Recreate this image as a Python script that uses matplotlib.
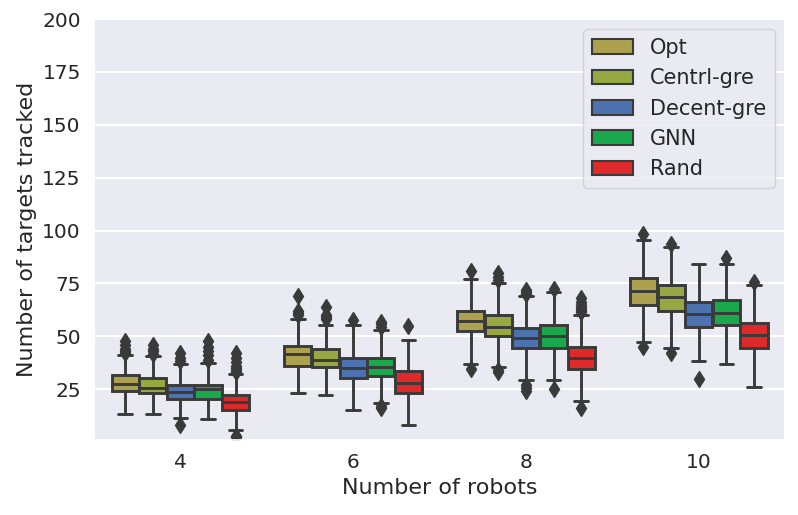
import numpy as np
import matplotlib
matplotlib.use("Agg")
import matplotlib.pyplot as plt
import matplotlib.patches as mpatches
import seaborn as sns

robots = ["4", "6", "8", "10"]
methods = ["Opt", "Centrl-gre", "Decent-gre", "GNN", "Rand"]
colors = ["#ADA150", "#97A843", "#4C72B0", "#19A84C", "#E0292A"]

# box stats, one row per method, one column per robot count
q1 = [[24.0, 36.0, 52.3, 65.0],
      [23.2, 35.3, 50.2, 62.2],
      [20.3, 30.2, 44.4, 54.2],
      [20.4, 31.1, 44.4, 55.3],
      [15.4, 23.2, 34.4, 44.3]]
med = [[27.7, 41.6, 57.3, 71.4],
       [25.8, 39.0, 54.5, 68.7],
       [23.7, 35.1, 49.3, 60.5],
       [24.9, 35.6, 50.1, 61.1],
       [19.0, 28.0, 40.0, 50.5]]
q3 = [[31.6, 45.3, 62.0, 77.4],
      [30.5, 44.2, 60.0, 74.2],
      [27.2, 40.0, 54.0, 66.3],
      [27.2, 40.0, 55.3, 67.4],
      [22.5, 33.5, 45.0, 56.4]]
whis_lo = [[13.3, 23.2, 37.1, 47.2],
           [13.3, 22.3, 35.3, 44.3],
           [11.4, 15.4, 29.3, 38.2],
           [10.7, 18.5, 29.3, 37.1],
           [5.6, 8.3, 19.3, 26.1]]
whis_hi = [[41.4, 58.3, 77.0, 95.5],
           [40.6, 55.3, 75.0, 92.0],
           [37.1, 55.6, 69.1, 84.2],
           [37.4, 53.2, 71.0, 84.2],
           [32.4, 48.2, 60.3, 74.2]]
outliers = [[[48, 46, 44, 43, 42], [69, 62, 61, 60], [81, 34.5], [98.5, 45]],
            [[46, 44, 43, 41.5], [64, 60, 59, 58], [80, 78, 76.5, 34, 33], [93.5, 42]],
            [[42, 40, 38.5, 8], [57.5], [72, 71, 70, 27, 25.5, 24], [30]],
            [[48, 45, 43, 41, 39], [57, 56, 54.5, 17, 16.3], [72.5, 25.3], [87]],
            [[42, 40, 38, 36, 35, 34, 33, 3, 2.4], [55], [68, 66, 65, 64, 63, 62, 61.5, 16.3], [75.5]]]

sns.set_theme(style="darkgrid")
plt.rcParams["font.family"] = ["DejaVu Sans"]

fig = plt.figure(figsize=(7.98, 5.15), dpi=100)
ax = fig.add_axes([0.1178, 0.1456, 0.866, 0.8175])

n = len(methods)
width = 0.8 / n
edge = "#3a3a3a"
lw = 2.1

for j in range(n):
    stats = []
    for i in range(len(robots)):
        stats.append(dict(med=med[j][i], q1=q1[j][i], q3=q3[j][i],
                          whislo=whis_lo[j][i], whishi=whis_hi[j][i],
                          fliers=outliers[j][i]))
    pos = np.arange(len(robots)) - 0.4 + width * (j + 0.5)
    ax.bxp(stats, positions=pos, widths=width * 0.98, patch_artist=True,
           manage_ticks=False,
           boxprops=dict(facecolor=colors[j], edgecolor=edge, linewidth=lw),
           medianprops=dict(color=edge, linewidth=lw),
           whiskerprops=dict(color=edge, linewidth=lw),
           capprops=dict(color=edge, linewidth=lw),
           flierprops=dict(marker="d", markersize=8, markerfacecolor=edge,
                           markeredgecolor=edge, linestyle="none"))

ax.set_xlim(-0.5, len(robots) - 0.5)
ax.set_ylim(1, 200)
ax.set_xticks(range(len(robots)))
ax.set_xticklabels(robots)
ax.set_yticks([25, 50, 75, 100, 125, 150, 175, 200])
ax.tick_params(labelsize=14.5, colors="#262626")
ax.xaxis.grid(False)
ax.yaxis.grid(True, color="white", linewidth=1.5)
ax.set_xlabel("Number of robots", fontsize=16, color="#262626")
ax.set_ylabel("Number of targets tracked", fontsize=16, color="#262626")

handles = [mpatches.Patch(facecolor=c, edgecolor=edge, linewidth=1.5, label=m)
           for m, c in zip(methods, colors)]
ax.legend(handles=handles, loc="upper right", fontsize=15)

fig.savefig("out.png", dpi=100)
plt.close(fig)
